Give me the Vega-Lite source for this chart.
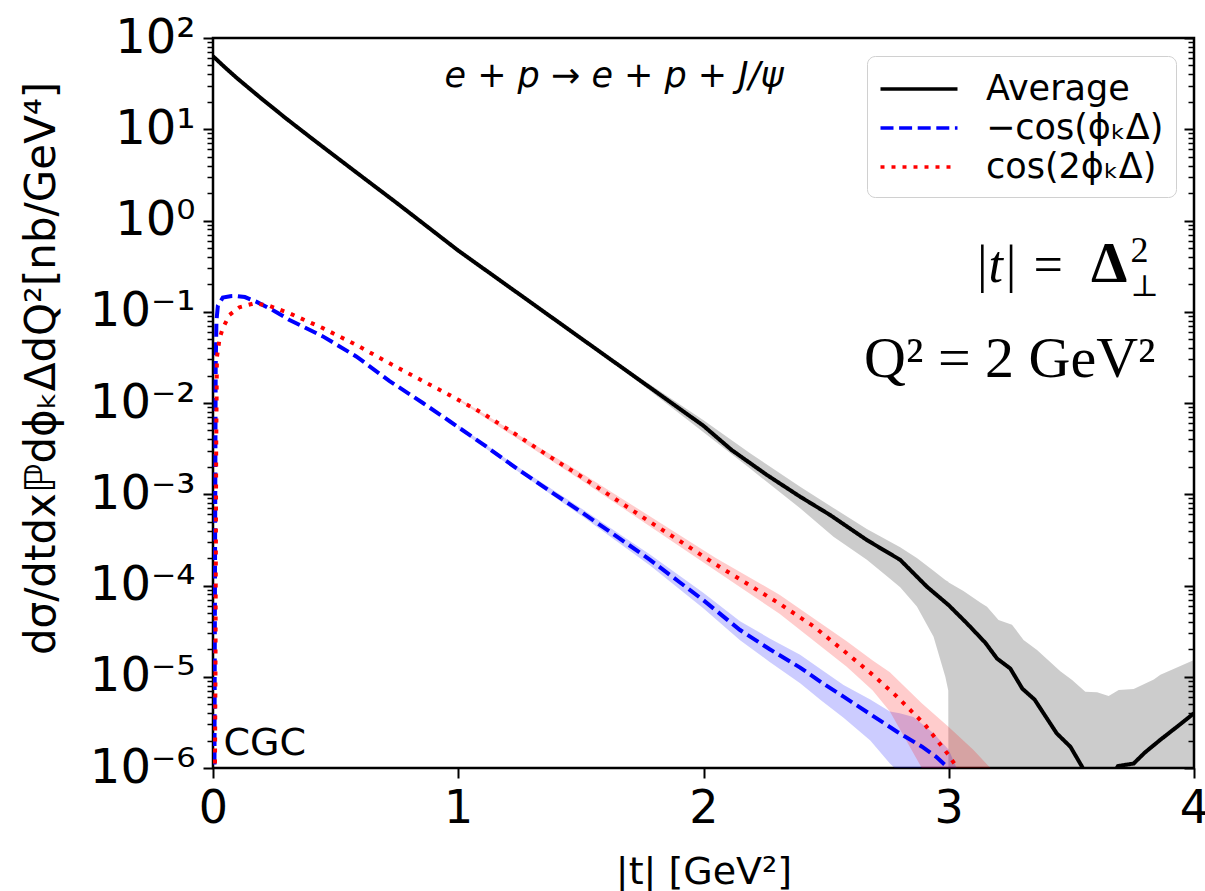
{
  "$schema": "https://vega.github.io/schema/vega-lite/v6.json",
  "width": 981,
  "height": 730,
  "autosize": "none",
  "padding": {"left": 213, "top": 38, "right": 11, "bottom": 123},
  "background": "white",
  "datasets": {
    "lines": [
      {"t": 0, "series": "Average", "v": 63.1},
      {"t": 0.05, "series": "Average", "v": 47.3},
      {"t": 0.1, "series": "Average", "v": 35.9},
      {"t": 0.2, "series": "Average", "v": 21.4},
      {"t": 0.3, "series": "Average", "v": 13.0},
      {"t": 0.4, "series": "Average", "v": 8.04},
      {"t": 0.5, "series": "Average", "v": 5.01},
      {"t": 0.6, "series": "Average", "v": 3.13},
      {"t": 0.75, "series": "Average", "v": 1.55},
      {"t": 1.0, "series": "Average", "v": 0.468},
      {"t": 1.25, "series": "Average", "v": 0.155},
      {"t": 1.5, "series": "Average", "v": 0.0513},
      {"t": 1.75, "series": "Average", "v": 0.017},
      {"t": 2.0, "series": "Average", "v": 0.00562},
      {"t": 2.115, "series": "Average", "v": 0.00305},
      {"t": 2.258, "series": "Average", "v": 0.00163},
      {"t": 2.394, "series": "Average", "v": 0.00094},
      {"t": 2.516, "series": "Average", "v": 0.000593},
      {"t": 2.666, "series": "Average", "v": 0.000315},
      {"t": 2.802, "series": "Average", "v": 0.000191},
      {"t": 2.911, "series": "Average", "v": 9.7e-5},
      {"t": 2.999, "series": "Average", "v": 6.11e-5},
      {"t": 3.074, "series": "Average", "v": 3.85e-5},
      {"t": 3.149, "series": "Average", "v": 2.36e-5},
      {"t": 3.197, "series": "Average", "v": 1.58e-5},
      {"t": 3.251, "series": "Average", "v": 1.23e-5},
      {"t": 3.3, "series": "Average", "v": 7.41e-6},
      {"t": 3.35, "series": "Average", "v": 5.62e-6},
      {"t": 3.44, "series": "Average", "v": 2.4e-6},
      {"t": 3.496, "series": "Average", "v": 1.71e-6},
      {"t": 3.543, "series": "Average", "v": 1.04e-6},
      {"t": 3.6, "series": "Average", "v": 5.0e-7},
      {"t": 3.65, "series": "Average", "v": 7.1e-7},
      {"t": 3.69, "series": "Average", "v": 1.05e-6},
      {"t": 3.754, "series": "Average", "v": 1.12e-6},
      {"t": 3.8, "series": "Average", "v": 1.48e-6},
      {"t": 3.863, "series": "Average", "v": 2.04e-6},
      {"t": 3.93, "series": "Average", "v": 2.82e-6},
      {"t": 4.0, "series": "Average", "v": 3.98e-6},

      {"t": 0, "series": "−cos(ϕₖΔ)", "v": 1e-8},
      {"t": 0.005, "series": "−cos(ϕₖΔ)", "v": 1e-7},
      {"t": 0.008, "series": "−cos(ϕₖΔ)", "v": 1e-4},
      {"t": 0.011, "series": "−cos(ϕₖΔ)", "v": 0.0251},
      {"t": 0.014, "series": "−cos(ϕₖΔ)", "v": 0.0794},
      {"t": 0.02, "series": "−cos(ϕₖΔ)", "v": 0.117},
      {"t": 0.04, "series": "−cos(ϕₖΔ)", "v": 0.143},
      {"t": 0.07, "series": "−cos(ϕₖΔ)", "v": 0.148},
      {"t": 0.095, "series": "−cos(ϕₖΔ)", "v": 0.149},
      {"t": 0.13, "series": "−cos(ϕₖΔ)", "v": 0.145},
      {"t": 0.176, "series": "−cos(ϕₖΔ)", "v": 0.129},
      {"t": 0.25, "series": "−cos(ϕₖΔ)", "v": 0.102},
      {"t": 0.312, "series": "−cos(ϕₖΔ)", "v": 0.0813},
      {"t": 0.448, "series": "−cos(ϕₖΔ)", "v": 0.0537},
      {"t": 0.584, "series": "−cos(ϕₖΔ)", "v": 0.0324},
      {"t": 0.72, "series": "−cos(ϕₖΔ)", "v": 0.0174},
      {"t": 0.856, "series": "−cos(ϕₖΔ)", "v": 0.01},
      {"t": 0.965, "series": "−cos(ϕₖΔ)", "v": 0.00631},
      {"t": 1.1, "series": "−cos(ϕₖΔ)", "v": 0.00355},
      {"t": 1.238, "series": "−cos(ϕₖΔ)", "v": 0.00192},
      {"t": 1.37, "series": "−cos(ϕₖΔ)", "v": 0.0011},
      {"t": 1.51, "series": "−cos(ϕₖΔ)", "v": 0.000617},
      {"t": 1.65, "series": "−cos(ϕₖΔ)", "v": 0.000339},
      {"t": 1.782, "series": "−cos(ϕₖΔ)", "v": 0.000191},
      {"t": 1.9, "series": "−cos(ϕₖΔ)", "v": 0.00011},
      {"t": 1.999, "series": "−cos(ϕₖΔ)", "v": 6.92e-5},
      {"t": 2.149, "series": "−cos(ϕₖΔ)", "v": 3.25e-5},
      {"t": 2.27, "series": "−cos(ϕₖΔ)", "v": 2.0e-5},
      {"t": 2.394, "series": "−cos(ϕₖΔ)", "v": 1.26e-5},
      {"t": 2.48, "series": "−cos(ϕₖΔ)", "v": 8.71e-6},
      {"t": 2.571, "series": "−cos(ϕₖΔ)", "v": 6.05e-6},
      {"t": 2.68, "series": "−cos(ϕₖΔ)", "v": 3.89e-6},
      {"t": 2.789, "series": "−cos(ϕₖΔ)", "v": 2.5e-6},
      {"t": 2.891, "series": "−cos(ϕₖΔ)", "v": 1.71e-6},
      {"t": 2.95, "series": "−cos(ϕₖΔ)", "v": 1.32e-6},
      {"t": 2.986, "series": "−cos(ϕₖΔ)", "v": 1.07e-6},
      {"t": 3.05, "series": "−cos(ϕₖΔ)", "v": 5.0e-7},

      {"t": 0, "series": "cos(2ϕₖΔ)", "v": 1e-8},
      {"t": 0.006, "series": "cos(2ϕₖΔ)", "v": 1e-7},
      {"t": 0.01, "series": "cos(2ϕₖΔ)", "v": 1e-5},
      {"t": 0.013, "series": "cos(2ϕₖΔ)", "v": 0.00316},
      {"t": 0.016, "series": "cos(2ϕₖΔ)", "v": 0.0316},
      {"t": 0.027, "series": "cos(2ϕₖΔ)", "v": 0.0513},
      {"t": 0.04, "series": "cos(2ϕₖΔ)", "v": 0.0661},
      {"t": 0.067, "series": "cos(2ϕₖΔ)", "v": 0.0923},
      {"t": 0.108, "series": "cos(2ϕₖΔ)", "v": 0.112},
      {"t": 0.169, "series": "cos(2ϕₖΔ)", "v": 0.124},
      {"t": 0.23, "series": "cos(2ϕₖΔ)", "v": 0.116},
      {"t": 0.312, "series": "cos(2ϕₖΔ)", "v": 0.0962},
      {"t": 0.448, "series": "cos(2ϕₖΔ)", "v": 0.0661},
      {"t": 0.584, "series": "cos(2ϕₖΔ)", "v": 0.0433},
      {"t": 0.72, "series": "cos(2ϕₖΔ)", "v": 0.0272},
      {"t": 0.856, "series": "cos(2ϕₖΔ)", "v": 0.0174},
      {"t": 0.965, "series": "cos(2ϕₖΔ)", "v": 0.0122},
      {"t": 1.1, "series": "cos(2ϕₖΔ)", "v": 0.00771},
      {"t": 1.238, "series": "cos(2ϕₖΔ)", "v": 0.00447},
      {"t": 1.373, "series": "cos(2ϕₖΔ)", "v": 0.00258},
      {"t": 1.51, "series": "cos(2ϕₖΔ)", "v": 0.00151},
      {"t": 1.646, "series": "cos(2ϕₖΔ)", "v": 0.000865},
      {"t": 1.78, "series": "cos(2ϕₖΔ)", "v": 0.000501},
      {"t": 1.918, "series": "cos(2ϕₖΔ)", "v": 0.00029},
      {"t": 2.05, "series": "cos(2ϕₖΔ)", "v": 0.00017},
      {"t": 2.19, "series": "cos(2ϕₖΔ)", "v": 0.0001},
      {"t": 2.31, "series": "cos(2ϕₖΔ)", "v": 6.31e-5},
      {"t": 2.45, "series": "cos(2ϕₖΔ)", "v": 3.55e-5},
      {"t": 2.584, "series": "cos(2ϕₖΔ)", "v": 1.81e-5},
      {"t": 2.69, "series": "cos(2ϕₖΔ)", "v": 1.05e-5},
      {"t": 2.789, "series": "cos(2ϕₖΔ)", "v": 6.05e-6},
      {"t": 2.904, "series": "cos(2ϕₖΔ)", "v": 2.96e-6},
      {"t": 2.999, "series": "cos(2ϕₖΔ)", "v": 1.39e-6},
      {"t": 3.033, "series": "cos(2ϕₖΔ)", "v": 1.02e-6},
      {"t": 3.1, "series": "cos(2ϕₖΔ)", "v": 5.0e-7}
    ],
    "bands": [
      {"t": 1.4, "band": "avg", "lo": 0.0785, "hi": 0.0804},
      {"t": 1.6, "band": "avg", "lo": 0.032, "hi": 0.0343},
      {"t": 1.75, "band": "avg", "lo": 0.0158, "hi": 0.0182},
      {"t": 2.0, "band": "avg", "lo": 0.00479, "hi": 0.00646},
      {"t": 2.19, "band": "avg", "lo": 0.00191, "hi": 0.00282},
      {"t": 2.394, "band": "avg", "lo": 0.000702, "hi": 0.00121},
      {"t": 2.53, "band": "avg", "lo": 0.000343, "hi": 0.000708},
      {"t": 2.666, "band": "avg", "lo": 0.000191, "hi": 0.000417},
      {"t": 2.748, "band": "avg", "lo": 0.000126, "hi": 0.000316},
      {"t": 2.802, "band": "avg", "lo": 9.55e-5, "hi": 0.000263},
      {"t": 2.87, "band": "avg", "lo": 5.89e-5, "hi": 0.0002},
      {"t": 2.938, "band": "avg", "lo": 2.75e-5, "hi": 0.000145},
      {"t": 2.986, "band": "avg", "lo": 1.0e-5, "hi": 0.000115},
      {"t": 2.998, "band": "avg", "lo": 7.08e-6, "hi": 0.00011},
      {"t": 3.0, "band": "avg", "lo": 1e-8, "hi": 0.000108},
      {"t": 3.06, "band": "avg", "lo": 1e-8, "hi": 8.71e-5},
      {"t": 3.13, "band": "avg", "lo": 1e-8, "hi": 6.46e-5},
      {"t": 3.156, "band": "avg", "lo": 1e-8, "hi": 5.86e-5},
      {"t": 3.203, "band": "avg", "lo": 1e-8, "hi": 4.19e-5},
      {"t": 3.258, "band": "avg", "lo": 1e-8, "hi": 3.72e-5},
      {"t": 3.305, "band": "avg", "lo": 1e-8, "hi": 2.53e-5},
      {"t": 3.36, "band": "avg", "lo": 1e-8, "hi": 1.96e-5},
      {"t": 3.455, "band": "avg", "lo": 1e-8, "hi": 1.15e-5},
      {"t": 3.503, "band": "avg", "lo": 1e-8, "hi": 9.2e-6},
      {"t": 3.557, "band": "avg", "lo": 1e-8, "hi": 6.87e-6},
      {"t": 3.605, "band": "avg", "lo": 1e-8, "hi": 6.76e-6},
      {"t": 3.652, "band": "avg", "lo": 1e-8, "hi": 6.17e-6},
      {"t": 3.693, "band": "avg", "lo": 1e-8, "hi": 7.16e-6},
      {"t": 3.754, "band": "avg", "lo": 1e-8, "hi": 7.35e-6},
      {"t": 3.836, "band": "avg", "lo": 1e-8, "hi": 9.33e-6},
      {"t": 3.863, "band": "avg", "lo": 1e-8, "hi": 1.05e-5},
      {"t": 4.0, "band": "avg", "lo": 1e-8, "hi": 1.53e-5},

      {"t": 1.0, "band": "mcos", "lo": 0.00519, "hi": 0.00569},
      {"t": 1.238, "band": "mcos", "lo": 0.00182, "hi": 0.00204},
      {"t": 1.51, "band": "mcos", "lo": 0.000562, "hi": 0.000676},
      {"t": 1.782, "band": "mcos", "lo": 0.000166, "hi": 0.000219},
      {"t": 1.999, "band": "mcos", "lo": 5.62e-5, "hi": 8.32e-5},
      {"t": 2.149, "band": "mcos", "lo": 2.51e-5, "hi": 4.07e-5},
      {"t": 2.27, "band": "mcos", "lo": 1.45e-5, "hi": 2.63e-5},
      {"t": 2.394, "band": "mcos", "lo": 8.51e-6, "hi": 1.74e-5},
      {"t": 2.48, "band": "mcos", "lo": 5.5e-6, "hi": 1.2e-5},
      {"t": 2.571, "band": "mcos", "lo": 3.55e-6, "hi": 8.13e-6},
      {"t": 2.68, "band": "mcos", "lo": 2.0e-6, "hi": 5.62e-6},
      {"t": 2.76, "band": "mcos", "lo": 1.12e-6, "hi": 4.17e-6},
      {"t": 2.8, "band": "mcos", "lo": 8.9e-7, "hi": 3.98e-6},
      {"t": 2.856, "band": "mcos", "lo": 2.5e-7, "hi": 3.63e-6},
      {"t": 2.938, "band": "mcos", "lo": 3.2e-8, "hi": 2.4e-6},
      {"t": 3.0, "band": "mcos", "lo": 1e-8, "hi": 1.58e-6},
      {"t": 3.04, "band": "mcos", "lo": 1e-8, "hi": 8.9e-7},

      {"t": 1.0, "band": "cos2", "lo": 0.0107, "hi": 0.0113},
      {"t": 1.51, "band": "cos2", "lo": 0.00138, "hi": 0.00166},
      {"t": 2.05, "band": "cos2", "lo": 0.000145, "hi": 0.0002},
      {"t": 2.31, "band": "cos2", "lo": 4.9e-5, "hi": 7.94e-5},
      {"t": 2.584, "band": "cos2", "lo": 1.29e-5, "hi": 2.45e-5},
      {"t": 2.69, "band": "cos2", "lo": 7.08e-6, "hi": 1.51e-5},
      {"t": 2.76, "band": "cos2", "lo": 4.17e-6, "hi": 1.12e-5},
      {"t": 2.89, "band": "cos2", "lo": 1.0e-6, "hi": 5.13e-6},
      {"t": 3.0, "band": "cos2", "lo": 1e-7, "hi": 2.82e-6},
      {"t": 3.1, "band": "cos2", "lo": 1e-8, "hi": 1.58e-6},
      {"t": 3.17, "band": "cos2", "lo": 1e-8, "hi": 1.0e-6},
      {"t": 3.25, "band": "cos2", "lo": 1e-8, "hi": 4.0e-7}
    ]
  },
  "layer": [
    {
      "data": {"name": "bands"},
      "mark": {"type": "area", "clip": true, "fillOpacity": 0.2, "interpolate": "linear"},
      "encoding": {
        "x": {"field": "t", "type": "quantitative", "title": "|t| [GeV²]",
              "scale": {"domain": [0, 4], "nice": false},
              "axis": {"orient": "bottom", "values": [0, 1, 2, 3, 4], "tickSize": 10, "labelPadding": 8, "labelFlush": false, "titlePadding": 22, "labelFontSize": 46}},
        "y": {"field": "lo", "type": "quantitative",
              "title": "dσ/dtdxℙdϕₖΔdQ²[nb/GeV⁴]",
              "scale": {"type": "log", "domain": [1e-6, 100], "nice": false},
              "axis": {"orient": "left", "values": [1e-6, 1e-5, 1e-4, 0.001, 0.01, 0.1, 1, 10, 100], "tickSize": 10, "labelPadding": 8, "labelFlush": false, "titlePadding": 26, "titleFontSize": 42, "titleY": 330,
                       "labelExpr": "datum.value >= 50 ? '10²' : datum.value >= 5 ? '10¹' : datum.value >= 0.5 ? '10⁰' : datum.value >= 0.05 ? '10⁻¹' : datum.value >= 0.005 ? '10⁻²' : datum.value >= 0.0005 ? '10⁻³' : datum.value >= 0.00005 ? '10⁻⁴' : datum.value >= 0.000005 ? '10⁻⁵' : '10⁻⁶'"}},
        "y2": {"field": "hi"},
        "fill": {"field": "band", "type": "nominal",
                 "scale": {"domain": ["avg", "mcos", "cos2"], "range": ["#000000", "#0000ff", "#ff0000"]},
                 "legend": null}
      }
    },
    {
      "data": {"name": "lines"},
      "mark": {"type": "line", "clip": true, "strokeWidth": 4, "strokeCap": "butt"},
      "encoding": {
        "x": {"field": "t", "type": "quantitative", "axis": null},
        "y": {"field": "v", "type": "quantitative",
              "axis": {"orient": "left", "title": null, "labels": false, "tickSize": 6, "tickWidth": 1.5,
                       "values": [2e-6, 3e-6, 4e-6, 5e-6, 6e-6, 7e-6, 8e-6, 9e-6, 2e-5, 3e-5, 4e-5, 5e-5, 6e-5, 7e-5, 8e-5, 9e-5, 2e-4, 3e-4, 4e-4, 5e-4, 6e-4, 7e-4, 8e-4, 9e-4, 0.002, 0.003, 0.004, 0.005, 0.006, 0.007, 0.008, 0.009, 0.02, 0.03, 0.04, 0.05, 0.06, 0.07, 0.08, 0.09, 0.2, 0.3, 0.4, 0.5, 0.6, 0.7, 0.8, 0.9, 2, 3, 4, 5, 6, 7, 8, 9, 20, 30, 40, 50, 60, 70, 80, 90]}},
        "color": {"field": "series", "type": "nominal",
                  "scale": {"domain": ["Average", "−cos(ϕₖΔ)", "cos(2ϕₖΔ)"], "range": ["#000000", "#0000ff", "#ff0000"]},
                  "legend": {"title": null, "orient": "top-right", "offset": 18, "labelFontSize": 35, "labelLimit": 400, "symbolType": "M-2,0H2", "symbolSize": 1482, "symbolStrokeWidth": 3.5, "symbolOffset": 19, "labelOffset": 46, "padding": 12, "fillColor": "white", "strokeColor": "#d0d0d0", "cornerRadius": 8, "rowPadding": -4}},
        "strokeDash": {"field": "series", "type": "nominal",
                       "scale": {"domain": ["Average", "−cos(ϕₖΔ)", "cos(2ϕₖΔ)"], "range": [[1, 0], [13, 5.6], [4, 7]]},
                       "legend": {"title": null, "orient": "top-right", "offset": 18, "labelFontSize": 35, "labelLimit": 400, "symbolType": "M-2,0H2", "symbolSize": 1482, "symbolStrokeWidth": 3.5, "symbolOffset": 19, "labelOffset": 46, "padding": 12, "fillColor": "white", "strokeColor": "#d0d0d0", "cornerRadius": 8, "rowPadding": -4}}
      }
    },
    {
      "data": {"values": [{}]},
      "mark": {"type": "text", "text": "e + p → e + p + J/ψ", "font": "DejaVu Sans", "fontSize": 35, "fontStyle": "italic", "align": "center", "baseline": "alphabetic", "color": "#000"},
      "encoding": {
        "x": {"datum": 1.635, "type": "quantitative", "axis": null},
        "y": {"datum": 29, "type": "quantitative",
              "axis": {"orient": "right", "title": null, "labels": false, "tickSize": -10, "values": [1e-6, 1e-5, 1e-4, 0.001, 0.01, 0.1, 1, 10, 100]}}
      }
    },
    {
      "data": {"values": [{}]},
      "mark": {"type": "text", "text": "Q²  =  2 GeV²", "font": "Liberation Serif", "fontSize": 58, "align": "right", "baseline": "alphabetic", "color": "#000"},
      "encoding": {
        "x": {"datum": 3.843, "type": "quantitative", "axis": null},
        "y": {"datum": 0.0193, "type": "quantitative",
              "axis": {"orient": "right", "title": null, "labels": false, "tickSize": -6, "tickWidth": 1.5,
                       "values": [2e-6, 3e-6, 4e-6, 5e-6, 6e-6, 7e-6, 8e-6, 9e-6, 2e-5, 3e-5, 4e-5, 5e-5, 6e-5, 7e-5, 8e-5, 9e-5, 2e-4, 3e-4, 4e-4, 5e-4, 6e-4, 7e-4, 8e-4, 9e-4, 0.002, 0.003, 0.004, 0.005, 0.006, 0.007, 0.008, 0.009, 0.02, 0.03, 0.04, 0.05, 0.06, 0.07, 0.08, 0.09, 0.2, 0.3, 0.4, 0.5, 0.6, 0.7, 0.8, 0.9, 2, 3, 4, 5, 6, 7, 8, 9, 20, 30, 40, 50, 60, 70, 80, 90]}}
      }
    },
    {
      "data": {"values": [{}]},
      "mark": {"type": "text", "text": "|t|  =", "font": "Liberation Serif", "fontSize": 52, "fontStyle": "italic", "align": "right", "baseline": "alphabetic", "dx": -93, "color": "#000"},
      "encoding": {
        "x": {"datum": 3.855, "type": "quantitative", "axis": null},
        "y": {"datum": 0.212, "type": "quantitative", "axis": null}
      }
    },
    {
      "data": {"values": [{}]},
      "mark": {"type": "text", "text": "Δ", "font": "Liberation Serif", "fontSize": 58, "fontWeight": "bold", "align": "right", "baseline": "alphabetic", "dx": -31, "color": "#000"},
      "encoding": {
        "x": {"datum": 3.855, "type": "quantitative", "axis": null},
        "y": {"datum": 0.212, "type": "quantitative", "axis": null}
      }
    },
    {
      "data": {"values": [{}]},
      "mark": {"type": "text", "text": "2", "font": "Liberation Serif", "fontSize": 36, "align": "left", "baseline": "alphabetic", "dx": -28, "dy": -20, "color": "#000"},
      "encoding": {
        "x": {"datum": 3.855, "type": "quantitative", "axis": null},
        "y": {"datum": 0.212, "type": "quantitative", "axis": null}
      }
    },
    {
      "data": {"values": [{}]},
      "mark": {"type": "text", "text": "⊥", "font": "DejaVu Serif", "fontSize": 30, "align": "left", "baseline": "alphabetic", "dx": -28, "dy": 14, "color": "#000"},
      "encoding": {
        "x": {"datum": 3.855, "type": "quantitative", "axis": null},
        "y": {"datum": 0.212, "type": "quantitative", "axis": null}
      }
    },
    {
      "data": {"values": [{}]},
      "mark": {"type": "text", "text": "CGC", "font": "DejaVu Sans", "fontSize": 38, "align": "left", "baseline": "alphabetic", "color": "#000"},
      "encoding": {
        "x": {"datum": 0.043, "type": "quantitative", "axis": null},
        "y": {"datum": 1.39e-6, "type": "quantitative", "axis": null}
      }
    }
  ],
  "resolve": {"axis": {"x": "independent", "y": "independent"}},
  "config": {
    "font": "DejaVu Sans",
    "view": {"stroke": "#000000", "strokeWidth": 2.5},
    "axis": {
      "grid": false, "domain": false,
      "tickColor": "#000000", "tickWidth": 2,
      "labelColor": "#000000", "titleColor": "#000000",
      "labelFont": "DejaVu Sans", "titleFont": "DejaVu Sans",
      "labelFontSize": 48, "titleFontSize": 38, "titleFontWeight": "normal"
    },
    "legend": {
      "labelFont": "DejaVu Sans", "labelColor": "#000000"
    }
  }
}
